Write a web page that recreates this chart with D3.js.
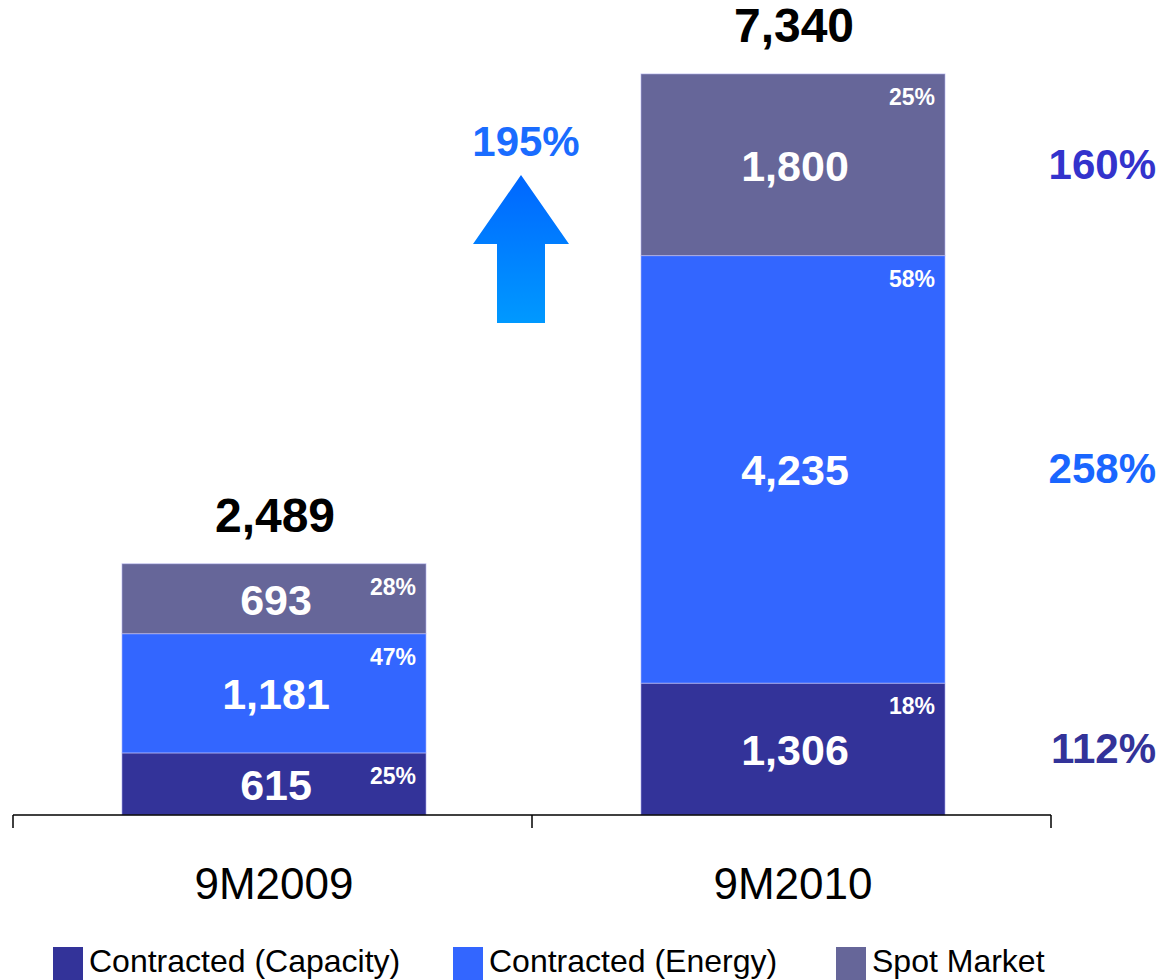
<!DOCTYPE html>
<meta charset="utf-8">
<style>
html, body { margin: 0; padding: 0; background: #fff; }
svg { display: block; font-family: "Liberation Sans", Arial, Helvetica, sans-serif; }
</style>
<body>
<svg width="1161" height="980"></svg>
</body>
<script src="https://d3js.org/d3.v7.min.js"></script>
<script>

// data
var periods = ["9M2009", "9M2010"];
var series = ["Contracted (Capacity)", "Contracted (Energy)", "Spot Market"];
var capacity = [615, 1306];
var energy = [1181, 4235];
var spot = [693, 1800];
var totals = ["2,489", "7,340"];
var growth = ["112%", "258%", "160%"];   // per series, 9M2010 vs 9M2009
var totalGrowth = "195%";

var colours = ["#333399", "#3366FF", "#666699"];
var growthColours = ["#333399", "#1A66FF", "#3333CC"];

var svg = d3.select("svg");

var rows = periods.map(function(p, i) {
    return {period: p, cap: capacity[i], en: energy[i], spot: spot[i], total: totals[i]};
});
var keys = ["cap", "en", "spot"];
var stacked = d3.stack().keys(keys)(rows);

var x = d3.scaleBand().domain(periods).range([14.5, 1052.5]).paddingInner(0.414).paddingOuter(0.207);
var y = d3.scaleLinear().domain([0, 7340]).range([815, 74]);

// bars
var layer = svg.append("g").selectAll("g")
    .data(stacked)
    .enter().append("g")
    .attr("fill", function(d, i) { return colours[i]; });

layer.selectAll("rect")
    .data(function(d) { return d; })
    .enter().append("rect")
    .attr("x", function(d) { return x(d.data.period); })
    .attr("y", function(d) { return y(d[1]); })
    .attr("width", x.bandwidth())
    .attr("height", function(d) { return y(d[0]) - y(d[1]); })
    .attr("stroke", "rgba(200,200,255,0.55)")
    .attr("stroke-width", 1);

// value labels in segments
layer.selectAll("text.val")
    .data(function(d) { return d; })
    .enter().append("text")
    .attr("class", "val")
    .attr("x", function(d) { return x(d.data.period) + x.bandwidth() / 2 + 2; })
    .attr("y", function(d) { return (y(d[0]) + y(d[1])) / 2 + 16; })
    .attr("text-anchor", "middle")
    .attr("fill", "#fff")
    .attr("font-weight", "bold")
    .attr("font-size", "43px")
    .text(function(d) { return d3.format(",")(d[1] - d[0]); });

// share labels
layer.selectAll("text.pct")
    .data(function(d) { return d; })
    .enter().append("text")
    .attr("class", "pct")
    .attr("x", function(d) { return x(d.data.period) + x.bandwidth() - 10; })
    .attr("y", function(d) { return y(d[1]) + 31; })
    .attr("text-anchor", "end")
    .attr("fill", "#fff")
    .attr("font-weight", "bold")
    .attr("font-size", "23px")
    .text(function(d) {
        var t = d.data.cap + d.data.en + d.data.spot;
        return Math.round((d[1] - d[0]) / t * 100) + "%";
    });

// totals
svg.append("g").selectAll("text")
    .data(rows)
    .enter().append("text")
    .attr("x", function(d) { return x(d.period) + x.bandwidth() / 2 + 1; })
    .attr("y", function(d) { return y(d.cap + d.en + d.spot) - 32; })
    .attr("text-anchor", "middle")
    .attr("font-weight", "bold")
    .attr("font-size", "48px")
    .text(function(d) { return d.total; });

// axis
var axis = svg.append("g").attr("stroke", "#000").attr("stroke-width", 1.5).attr("fill", "none");
axis.append("line").attr("x1", 13).attr("x2", 1051).attr("y1", y(0)).attr("y2", y(0));
[13, 13 + x.step(), 13 + 2 * x.step()].forEach(function(t) {
    axis.append("line").attr("x1", t).attr("x2", t).attr("y1", y(0)).attr("y2", y(0) + 13);
});

svg.append("g").selectAll("text")
    .data(periods)
    .enter().append("text")
    .attr("x", function(d) { return x(d) + x.bandwidth() / 2; })
    .attr("y", 899)
    .attr("text-anchor", "middle")
    .attr("font-size", "44px")
    .text(function(d) { return d; });

// growth per series, next to the second bar
var last = rows.length - 1;
svg.append("g").selectAll("text")
    .data(stacked)
    .enter().append("text")
    .attr("x", 1156)
    .attr("y", function(d) { return (y(d[last][0]) + y(d[last][1])) / 2 + 14; })
    .attr("text-anchor", "end")
    .attr("font-weight", "bold")
    .attr("font-size", "42px")
    .attr("fill", function(d, i) { return growthColours[i]; })
    .text(function(d, i) { return growth[i]; });

// arrow
var defs = svg.append("defs");
var grad = defs.append("linearGradient").attr("id", "arrowGrad")
    .attr("x1", 0).attr("y1", 0).attr("x2", 0).attr("y2", 1);
grad.append("stop").attr("offset", "0%").attr("stop-color", "#0066FF");
grad.append("stop").attr("offset", "100%").attr("stop-color", "#0099FF");

var ax = 521;
svg.append("path")
    .attr("d", "M" + ax + ",175 L" + (ax + 48) + ",244 L" + (ax + 24) + ",244 L" + (ax + 24) + ",323 L" +
        (ax - 24) + ",323 L" + (ax - 24) + ",244 L" + (ax - 48) + ",244 Z")
    .attr("fill", "url(#arrowGrad)");

svg.append("text")
    .attr("x", 526)
    .attr("y", 156)
    .attr("text-anchor", "middle")
    .attr("font-weight", "bold")
    .attr("font-size", "42px")
    .attr("fill", "#1A6CFF")
    .text(totalGrowth);

// legend
var legX = [53, 453, 836];
var leg = svg.append("g").selectAll("g")
    .data(series)
    .enter().append("g")
    .attr("transform", function(d, i) { return "translate(" + legX[i] + ",947)"; });
leg.append("rect").attr("width", 30).attr("height", 33).attr("fill", function(d, i) { return colours[i]; });
leg.append("text").attr("x", 36).attr("y", 25).attr("font-size", "32px").text(function(d) { return d; });

</script>
